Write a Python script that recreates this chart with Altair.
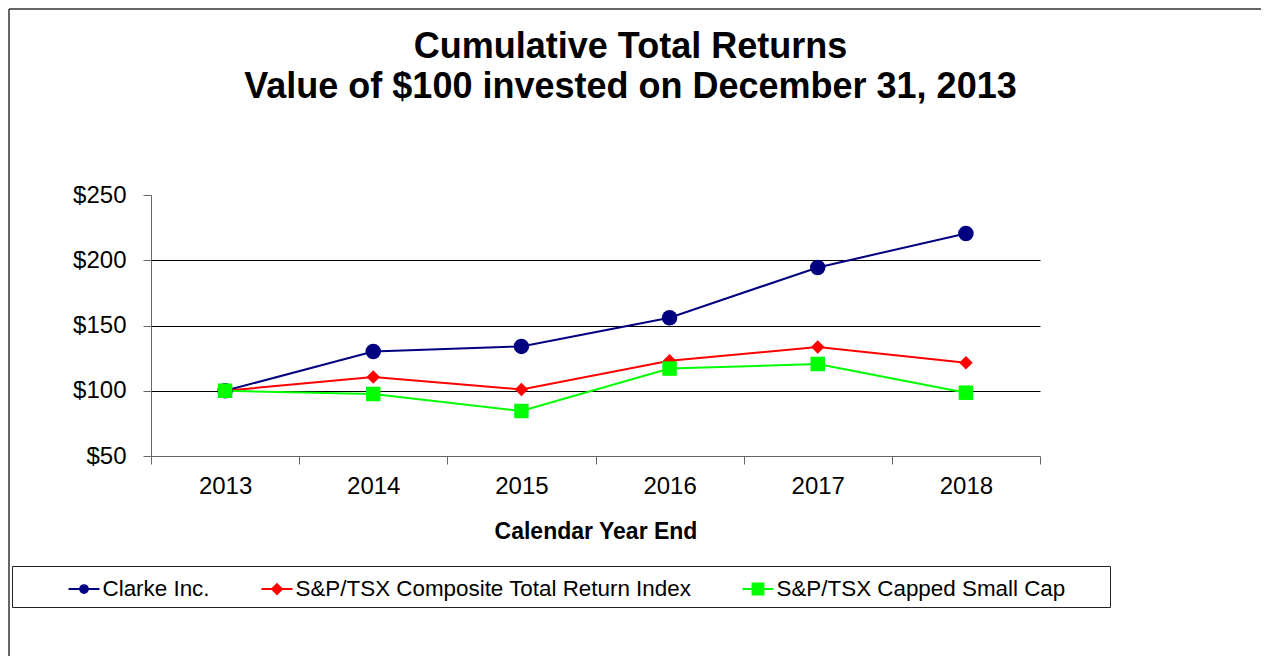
import altair as alt
import pandas as pd

# ---- data ----
years = ["2013", "2014", "2015", "2016", "2017", "2018"]
series_names = [
    "Clarke Inc.",
    "S&P/TSX Composite Total Return Index",
    "S&P/TSX Capped Small Cap",
]
clarke = [100, 130, 134, 156, 194.5, 220.5]
tsx_composite = [100, 110.5, 101, 123, 133.5, 121.5]
tsx_small_cap = [100, 97.5, 84.5, 117, 120.5, 98.5]
y_ticks = [50, 100, 150, 200, 250]

title_lines = ["Cumulative Total Returns", "Value of $100 invested on December 31, 2013"]
x_title = "Calendar Year End"

# ---- styles ----
FONT = "Liberation Sans"
colors = ["#000080", "#FF0000", "#00FF00"]
shapes = ["circle", "diamond", "square"]
sizes = [240, 182, 210]
legend_paths = [
    "M-1,0L1,0M0.25,0A0.25,0.25,0,1,1,-0.25,0A0.25,0.25,0,1,1,0.25,0Z",
    "M-1,0L1,0M0,-0.32L0.32,0L0,0.32L-0.32,0Z",
    "M-1,0L1,0M-0.35,-0.35L0.35,-0.35L0.35,0.35L-0.35,0.35Z",
]

rows = []
for name, vals in zip(series_names, [clarke, tsx_composite, tsx_small_cap]):
    for yr, v in zip(years, vals):
        rows.append({"year": yr, "series": name, "value": v})
df = pd.DataFrame(rows)

# blank room after the last legend label (non-breaking spaces kept by a zero-width char)
tail = "\u00a0" * 6 + "\u200b"
label_expr = f"datum.value == '{series_names[2]}' ? datum.label + '{tail}' : datum.label"

legend = alt.Legend(
    orient="none",
    legendX=-139,
    legendY=371,
    direction="horizontal",
    title="\u00a0",
    titleOrient="left",
    titleFontSize=10,
    titlePadding=49,
    labelFont=FONT,
    labelFontSize=22.4,
    labelColor="black",
    labelLimit=1000,
    labelOffset=2,
    labelExpr=label_expr,
    symbolSize=961,
    symbolStrokeWidth=2,
    symbolOpacity=1,
    columnPadding=47,
    padding=6.5,
    strokeColor="#222222",
    fillColor="white",
)

x_enc = alt.X(
    "year:O",
    sort=years,
    scale=alt.Scale(type="band", paddingInner=0, paddingOuter=0),
    axis=alt.Axis(
        title=x_title,
        labelAngle=0,
        tickBand="extent",
        tickSize=8,
        labelPadding=10,
        labelFont=FONT,
        labelFontSize=24,
        labelColor="black",
        domainColor="#666666",
        tickColor="#666666",
        grid=False,
        titleFont=FONT,
        titleFontSize=23,
        titleFontWeight="bold",
        titleColor="black",
        titleBaseline="alphabetic",
        titleY=82,
    ),
)

y_enc = alt.Y(
    "value:Q",
    scale=alt.Scale(domain=[50, 250], nice=False, zero=False),
    axis=alt.Axis(
        values=y_ticks,
        format="$.0f",
        title=None,
        tickSize=8,
        labelPadding=17,
        labelFont=FONT,
        labelFontSize=24,
        labelColor="black",
        domainColor="#666666",
        tickColor="#666666",
        grid=True,
        gridColor={
            "condition": {"test": "datum.value == 250 || datum.value == 50", "value": "transparent"},
            "value": "#000000",
        },
        gridWidth=1,
    ),
)

one = pd.DataFrame({"f": [0]})
frame_top = alt.Chart(one).mark_rule(color="#333333", strokeWidth=1.5).encode(
    x=alt.value(-142), x2=alt.value(1110), y=alt.value(-186)
)
frame_left = alt.Chart(one).mark_rule(color="#333333", strokeWidth=1.5).encode(
    x=alt.value(-142), y=alt.value(-186), y2=alt.value(461)
)

line_layers = []
marker_layers = []
for name, col, shp, sz in zip(series_names, colors, shapes, sizes):
    base = alt.Chart(df).transform_filter(alt.datum.series == name)
    line_layers.append(base.mark_line(strokeWidth=2, color=col).encode(x=x_enc, y=y_enc))
    marker_layers.append(
        base.mark_point(filled=True, opacity=1, shape=shp, size=sz, color=col).encode(x=x_enc, y=y_enc)
    )

# tiny layer (hidden beneath the markers) that carries the legend symbols
legend_layer = alt.Chart(df).mark_point(filled=True, size=1, strokeWidth=2).encode(
    x=x_enc,
    y=y_enc,
    fill=alt.Fill("series:N", sort=series_names,
                  scale=alt.Scale(domain=series_names, range=colors), legend=legend),
    stroke=alt.Stroke("series:N", sort=series_names,
                      scale=alt.Scale(domain=series_names, range=colors), legend=legend),
    shape=alt.Shape("series:N", sort=series_names,
                    scale=alt.Scale(domain=series_names, range=legend_paths), legend=legend),
)

chart = alt.layer(frame_top, frame_left, *line_layers, legend_layer, *marker_layers).properties(
    width=889,
    height=261,
    padding={"left": 143, "top": 187, "right": 222, "bottom": 200},
    autosize=alt.AutoSizeParams(type="none"),
    title=alt.Title(
        title_lines,
        font=FONT,
        fontSize=36,
        fontWeight="bold",
        color="black",
        anchor="middle",
        frame="group",
        offset=0,
        dx=35,
        dy=98,
        lineHeight=40,
    ),
).configure(font=FONT, background="white").configure_view(stroke="transparent")

chart.save("out.html", embed_options={"renderer": "svg", "actions": False})
